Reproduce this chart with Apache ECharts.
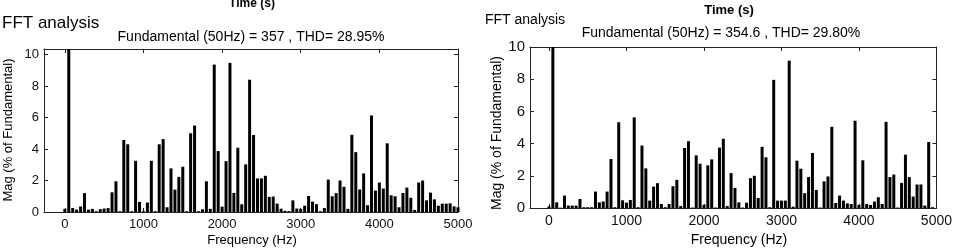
<!DOCTYPE html>
<html>
<head>
<meta charset="utf-8">
<script src="https://cdn.jsdelivr.net/npm/echarts@6/dist/echarts.min.js"></script>
<style>
html,body{margin:0;padding:0;background:#fff;}
#chart{width:955px;height:248px;}
</style>
</head>
<body>
<div id="chart"></div>
<script>
// Harmonic frequencies (Hz)
const freqHz = [0,50,100,150,200,250,300,350,400,450,500,550,600,650,700,750,800,850,900,950,
1000,1050,1100,1150,1200,1250,1300,1350,1400,1450,1500,1550,1600,1650,1700,1750,1800,1850,1900,1950,
2000,2050,2100,2150,2200,2250,2300,2350,2400,2450,2500,2550,2600,2650,2700,2750,2800,2850,2900,2950,
3000,3050,3100,3150,3200,3250,3300,3350,3400,3450,3500,3550,3600,3650,3700,3750,3800,3850,3900,3950,
4000,4050,4100,4150,4200,4250,4300,4350,4400,4450,4500,4550,4600,4650,4700,4750,4800,4850,4900,4950,5000];

// Left panel: Mag (% of Fundamental)
const magLeft = [0.2,100,0.25,0.15,0.35,1.2,0.15,0.2,0.05,0.18,
0.22,0.25,1.25,1.95,0.05,4.57,4.3,0.05,3.25,0.64,
0.05,0.6,3.25,0.05,4.3,4.63,0.3,2.77,1.42,2.23,
2.87,0.05,5.0,5.49,0.05,0.17,1.95,0.2,9.36,3.87,
0.34,3.23,9.47,1.21,4.08,0.49,3.02,8.4,4.89,2.13,
2.13,2.3,0.96,0.98,0.53,0.21,0.08,0.06,0.74,0.22,
0.2,0.4,1.02,0.66,0.5,0.05,0.25,2.06,1.0,1.2,
2.0,1.6,0.2,4.9,3.8,1.43,2.45,0.43,6.13,1.36,
1.87,1.49,4.36,1.06,1.0,0.3,1.21,1.55,0.9,0.13,
1.87,2.0,0.74,1.23,0.8,0.4,0.53,0.53,0.55,0.36,0.3];

// Right panel: Mag (% of Fundamental)
const magRight = [0.1,100,0.35,0.02,0.77,0.15,0.15,0.15,0.56,0.05,
0.05,0.05,1.02,0.35,0.4,1.02,3.04,0.05,5.33,0.48,
0.33,0.5,5.63,0.05,3.88,2.46,0.46,1.33,1.54,0.25,
0.05,0.25,1.35,1.75,0.12,3.73,4.15,0.03,3.27,2.75,
0.2,2.65,3.02,0.03,3.75,4.3,0.12,2.17,1.25,0.35,
0.03,0.33,1.85,2.0,0.62,3.8,3.15,0.05,7.96,0.46,
0.46,0.46,9.15,0.08,2.94,2.44,0.92,1.92,3.42,1.12,
0.03,1.65,1.96,5.04,0.31,0.77,0.46,0.29,0.25,5.42,
0.19,2.96,0.25,0.19,0.4,0.67,0.25,5.35,1.92,2.08,
0.03,1.56,3.31,1.92,0.71,1.46,1.46,0.15,4.1,0.05,0];

const xTicks = [0,1000,2000,3000,4000,5000];
const yTicks = [0,2,4,6,8,10];

const titleLeft = 'Fundamental (50Hz) = 357 , THD= 28.95%';
const titleRight = 'Fundamental (50Hz) = 354.6 , THD= 29.80%';

const FONT = 'Liberation Sans, Arial, sans-serif';

function pairs(vals){ return freqHz.map((f,i)=>[f, vals[i]]); }
const plain = v => String(v);

function xAx(gi, min, pos, fs, showLabel){
  return {
    type:'value', gridIndex:gi, min:min, max:5000, position:pos,
    axisLine:{show:true, onZero:false, lineStyle:{color:'#222', width:1}},
    axisTick:{show:true, inside:true, length:4, customValues:xTicks, lineStyle:{color:'#222'}},
    axisLabel:{show:showLabel, customValues:xTicks, formatter:plain, color:'#111', fontFamily:FONT, fontSize:fs, margin:6},
    splitLine:{show:false}
  };
}
function yAx(gi, max, pos, fs, showLabel){
  return {
    type:'value', gridIndex:gi, min:0, max:max, position:pos,
    axisLine:{show:true, onZero:false, lineStyle:{color:'#222', width:1}},
    axisTick:{show:true, inside:true, length:4, customValues:yTicks, lineStyle:{color:'#222'}},
    axisLabel:{show:showLabel, customValues:yTicks, formatter:plain, color:'#111', fontFamily:FONT, fontSize:fs, margin:5},
    splitLine:{show:false}
  };
}

const chart = echarts.init(document.getElementById('chart'), null, {renderer:'canvas'});
chart.setOption({
  animation:false,
  backgroundColor:'#fff',
  grid:[
    {left:44, top:49, width:414, height:163},
    {left:530, top:47, width:408, height:161}
  ],
  xAxis:[
    xAx(0, -265, 'bottom', 13, true),
    xAx(0, -265, 'top', 13, false),
    xAx(1, -245, 'bottom', 14, true),
    xAx(1, -245, 'top', 14, false)
  ],
  yAxis:[
    yAx(0, 10.35, 'left', 13, true),
    yAx(0, 10.35, 'right', 13, false),
    yAx(1, 10, 'left', 15, true),
    yAx(1, 10, 'right', 15, false)
  ],
  series:[
    {type:'bar', xAxisIndex:0, yAxisIndex:0, data:pairs(magLeft), barWidth:3,
     itemStyle:{color:'#000'}, clip:true},
    {type:'bar', xAxisIndex:2, yAxisIndex:2, data:pairs(magRight), barWidth:3,
     itemStyle:{color:'#000'}, clip:true}
  ],
  graphic:[
    {type:'text', x:252, y:4, style:{text:'Time (s)', font:'bold 12px '+FONT, align:'center', verticalAlign:'middle', fill:'#000'}},
    {type:'text', x:2, y:23, style:{text:'FFT analysis', font:'17px '+FONT, align:'left', verticalAlign:'middle', fill:'#000'}},
    {type:'text', x:251, y:37, style:{text:titleLeft, font:'14px '+FONT, align:'center', verticalAlign:'middle', fill:'#000'}},
    {type:'text', x:8, y:130, rotation:Math.PI/2, style:{text:'Mag (% of Fundamental)', font:'13px '+FONT, align:'center', verticalAlign:'middle', fill:'#000'}},
    {type:'text', x:252, y:240, style:{text:'Frequency (Hz)', font:'13px '+FONT, align:'center', verticalAlign:'middle', fill:'#000'}},

    {type:'text', x:729, y:10, style:{text:'Time (s)', font:'bold 13px '+FONT, align:'center', verticalAlign:'middle', fill:'#000'}},
    {type:'text', x:485, y:20, style:{text:'FFT analysis', font:'14px '+FONT, align:'left', verticalAlign:'middle', fill:'#000'}},
    {type:'text', x:721, y:33, style:{text:titleRight, font:'14px '+FONT, align:'center', verticalAlign:'middle', fill:'#000'}},
    {type:'text', x:497, y:133, rotation:Math.PI/2, style:{text:'Mag (% of Fundamental)', font:'14px '+FONT, align:'center', verticalAlign:'middle', fill:'#000'}},
    {type:'text', x:739, y:240, style:{text:'Frequency (Hz)', font:'14px '+FONT, align:'center', verticalAlign:'middle', fill:'#000'}}
  ]
});
</script>
</body>
</html>
